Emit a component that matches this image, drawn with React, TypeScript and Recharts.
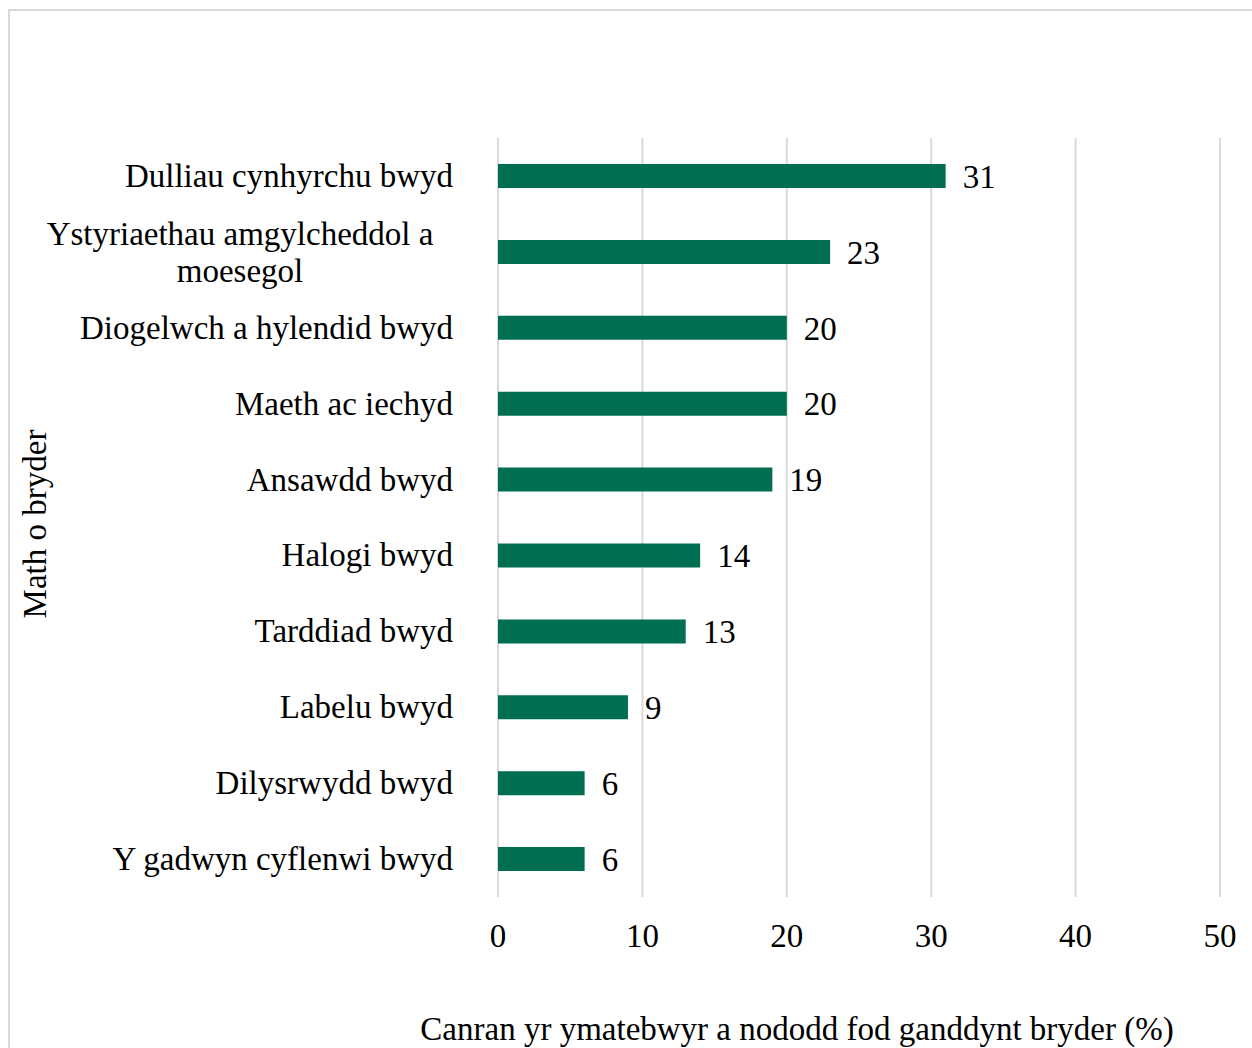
import { Bar, BarChart, CartesianGrid, LabelList, XAxis, YAxis } from 'recharts';

const CATEGORIES = [
  'Dulliau cynhyrchu bwyd',
  'Ystyriaethau amgylcheddol a moesegol',
  'Diogelwch a hylendid bwyd',
  'Maeth ac iechyd',
  'Ansawdd bwyd',
  'Halogi bwyd',
  'Tarddiad bwyd',
  'Labelu bwyd',
  'Dilysrwydd bwyd',
  'Y gadwyn cyflenwi bwyd',
];

const VALUES = [31, 23, 20, 20, 19, 14, 13, 9, 6, 6];

const X_TICKS = [0, 10, 20, 30, 40, 50];

const X_TITLE = 'Canran yr ymatebwyr a nododd fod ganddynt bryder (%)';
const Y_TITLE = 'Math o bryder';

const data = CATEGORIES.map((name, i) => ({ name, value: VALUES[i] }));

const FONT = '"Liberation Serif", "Times New Roman", serif';
const FONT_SIZE = 33;
const GREEN = '#006f51';
const GRID = '#d9d9d9';

// split long labels into lines of at most ~28 chars
function wrap(text: string, max = 28) {
  const words = text.split(' ');
  const lines: string[] = [];
  let cur = '';
  for (const w of words) {
    const next = cur ? cur + ' ' + w : w;
    if (next.length > max && cur) {
      lines.push(cur);
      cur = w;
    } else {
      cur = next;
    }
  }
  if (cur) lines.push(cur);
  return lines;
}

function CategoryTick(props: any) {
  const { y, payload } = props;
  const lines = wrap(payload.value);
  if (lines.length === 1) {
    return (
      <text x={453} y={y + 11} textAnchor="end" fontFamily={FONT} fontSize={FONT_SIZE} fill="#000">
        {payload.value}
      </text>
    );
  }
  return (
    <text x={240} y={y - 7} textAnchor="middle" fontFamily={FONT} fontSize={FONT_SIZE} fill="#000">
      {lines.map((l, i) => (
        <tspan key={i} x={240} dy={i === 0 ? 0 : 37}>
          {l}
        </tspan>
      ))}
    </text>
  );
}

function ValueTick(props: any) {
  const { x, payload } = props;
  return (
    <text x={x} y={947} textAnchor="middle" fontFamily={FONT} fontSize={FONT_SIZE} fill="#000">
      {payload.value}
    </text>
  );
}

export default function App() {
  return (
    <div
      style={{
        position: 'absolute',
        left: 0,
        top: 0,
        width: 1252,
        height: 1048,
        background: '#fff',
        overflow: 'hidden',
      }}
    >
      <div
        style={{
          position: 'absolute',
          left: 8,
          top: 9,
          width: 1260,
          height: 1060,
          borderLeft: `2px solid ${GRID}`,
          borderTop: `2px solid ${GRID}`,
        }}
      />
      <div style={{ position: 'absolute', left: 0, top: 0 }}>
        <BarChart
          width={1252}
          height={1048}
          data={data}
          layout="vertical"
          margin={{ top: 138, right: 32, left: 0, bottom: 0 }}
          barCategoryGap={0}
        >
          <CartesianGrid horizontal={false} stroke={GRID} strokeWidth={2} />
          <XAxis
            type="number"
            domain={[0, 50]}
            ticks={X_TICKS}
            interval={0}
            height={151}
            axisLine={false}
            tickLine={false}
            tick={<ValueTick />}
            label={{
              content: () => (
                <text x={797} y={1040} textAnchor="middle" fontFamily={FONT} fontSize={FONT_SIZE} fill="#000">
                  {X_TITLE}
                </text>
              ),
            }}
          />
          <YAxis
            type="category"
            dataKey="name"
            width={498}
            axisLine={false}
            tickLine={false}
            interval={0}
            tick={<CategoryTick />}
            label={{
              content: () => (
                <text
                  x={46}
                  y={524}
                  transform="rotate(-90, 46, 524)"
                  textAnchor="middle"
                  fontFamily={FONT}
                  fontSize={FONT_SIZE}
                  fill="#000"
                >
                  {Y_TITLE}
                </text>
              ),
            }}
          />
          <Bar dataKey="value" fill={GREEN} barSize={24} isAnimationActive={false}>
            <LabelList
              dataKey="value"
              position="right"
              offset={17}
              fontFamily={FONT}
              fontSize={FONT_SIZE}
              fill="#000"
            />
          </Bar>
        </BarChart>
      </div>
    </div>
  );
}
